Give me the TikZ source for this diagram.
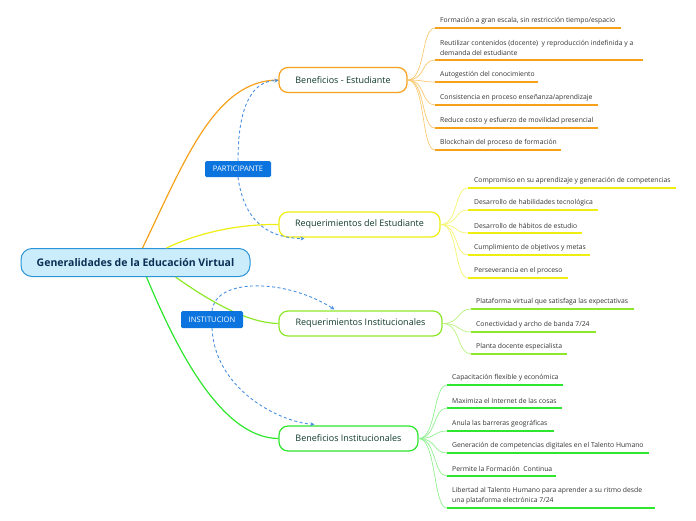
\documentclass[tikz,border=0pt]{standalone}
\usepackage{fontspec}
\setmainfont{Open Sans}
\usetikzlibrary{arrows.meta,calc}
\definecolor{cOr}{HTML}{F7A11A}
\definecolor{cOrL}{HTML}{F9C870}
\definecolor{cYe}{HTML}{EEEE10}
\definecolor{cYeL}{HTML}{F4F470}
\definecolor{cLi}{HTML}{8EE82A}
\definecolor{cLiL}{HTML}{B8F280}
\definecolor{cGr}{HTML}{2EE62E}
\definecolor{cGrL}{HTML}{90F090}
\definecolor{cDash}{HTML}{4A90E2}
\definecolor{cLab}{HTML}{0B74DE}
\definecolor{cCenF}{HTML}{CBEDFB}
\definecolor{cCenD}{HTML}{2A94D6}
\definecolor{cTxt}{HTML}{0E3A2B}
\definecolor{cLeaf}{HTML}{333333}
\tikzset{
  topic/.style={draw, line width=1.2pt, fill=white, rounded corners=9pt, inner sep=0pt,
    text=cTxt, font=\fontsize{9}{11}\selectfont, minimum height=25pt},
  label/.style={fill=cLab, rounded corners=1.5pt, text=white, inner sep=0pt,
    font=\fontsize{7.6}{9}\selectfont},
  leaf/.style={inner sep=0pt, text=cLeaf, align=left, font=\fontsize{6.8}{10}\selectfont},
  conn/.style={line width=1.2pt},
  dashlink/.style={cDash, line width=0.9pt, dash pattern=on 3pt off 2.5pt, -{Stealth[length=4pt,width=4pt]}},
  or branch/.style={cOrL, line width=0.7pt}, or ul/.style={cOr, line width=1.8pt},
  ye branch/.style={cYeL, line width=0.7pt}, ye ul/.style={cYe, line width=1.8pt},
  li branch/.style={cLiL, line width=0.7pt}, li ul/.style={cLi, line width=1.8pt},
  gr branch/.style={cGrL, line width=0.7pt}, gr ul/.style={cGr, line width=1.8pt},
}
\newcommand\leafitem[8]{%
  \coordinate (#1a) at (#4,#6);
  \coordinate (#1b) at (#5,#6);
  \node[leaf, anchor=south west] (#1) at (#3,#6-4) {#8};
  \draw[#7 branch] (#2.east) .. controls ($(#2.east)+(18,0)$) and ($(#1a)+(-14,0)$) .. (#1a);
  \draw[#7 ul] (#1a) -- (#1b);
}
\begin{document}
\begin{tikzpicture}[x=1pt,y=-1pt]
\useasboundingbox (0,0) rectangle (696,520);
% central
\node[draw=cCenD, fill=cCenF, line width=1pt, rounded corners=11pt, minimum width=229pt, minimum height=28pt,
  text=cTxt!80!blue, font=\fontsize{10.5}{12}\selectfont\bfseries] (cen) at (135.5,262.5) {Generalidades de la Educación Virtual};
% topics
\node[topic, draw=cOr, minimum width=128pt] (bes) at (343,80) {Beneficios - Estudiante};
\node[topic, draw=cYe, minimum width=161pt] (res) at (359.5,224.5) {Requerimientos del Estudiante};
\node[topic, draw=cLi, minimum width=163pt] (rin) at (360.5,323.5) {Requerimientos Institucionales};
\node[topic, draw=cGr, minimum width=139pt] (bin) at (348.5,438.5) {Beneficios Institucionales};
% main connectors
\draw[conn, cOr] ($(cen.north)+(7,0)$) .. controls (185,160) and (215,80) .. (bes.west);
\draw[conn, cYe] ($(cen.north)+(31,0)$) .. controls (200,232) and (240,224) .. (res.west);
\draw[conn, cLi] ($(cen.south)+(40,0)$) .. controls (215,305) and (250,323) .. (rin.west);
\draw[conn, cGr] ($(cen.south)+(11,0)$) .. controls (175,345) and (220,438) .. (bin.west);
% labels
\node[label, minimum width=66pt, minimum height=16pt] (part) at (238,169) {PARTICIPANTE};
\node[label, minimum width=62pt, minimum height=17pt] (inst) at (212,319.5) {INSTITUCION};
% dashed links
\draw[dashlink] (part.north) .. controls (238,110) and (250,81) .. ($(bes.west)+(0,0.5)$);
\draw[dashlink] (part.south) .. controls (245,228) and (275,238) .. ($(res.south west)+(26,1)$);
\draw[dashlink] (inst.north) .. controls (215,278) and (285,278) .. ($(rin.north west)+(56,-1)$);
\draw[dashlink] (inst.south) .. controls (215,390) and (280,422) .. ($(bin.north west)+(36,-1)$);
% leaves: Beneficios - Estudiante
\leafitem{l1}{bes}{440}{435}{621}{28}{or}{Formación a gran escala, sin restricción tiempo/espacio}
\leafitem{l2}{bes}{440}{435}{643}{60}{or}{Reutilizar contenidos (docente)\ \ y reproducción indefinida y a\\demanda del estudiante}
\leafitem{l3}{bes}{440}{435}{538}{82}{or}{Autogestión del conocimiento}
\leafitem{l4}{bes}{440}{435}{598}{105}{or}{Consistencia en proceso enseñanza/aprendizaje}
\leafitem{l5}{bes}{440}{435}{598}{128}{or}{Reduce costo y esfuerzo de movilidad presencial}
\leafitem{l6}{bes}{440}{435}{561}{150}{or}{Blockchain del proceso de formación}
% leaves: Requerimientos del Estudiante
\leafitem{m1}{res}{474}{468}{676}{188}{ye}{Compromiso en su aprendizaje y generación de competencias}
\leafitem{m2}{res}{474}{468}{598}{210}{ye}{Desarrollo de habilidades tecnológica}
\leafitem{m3}{res}{474}{468}{582}{233}{ye}{Desarrollo de hábitos de estudio}
\leafitem{m4}{res}{474}{468}{590}{255}{ye}{Cumplimiento de objetivos y metas}
\leafitem{m5}{res}{474}{468}{568}{278}{ye}{Perseverancia en el proceso}
% leaves: Requerimientos Institucionales
\leafitem{n1}{rin}{476}{471}{634}{309}{li}{Plataforma virtual que satisfaga las expectativas}
\leafitem{n2}{rin}{476}{471}{596}{332}{li}{Conectividad y archo de banda 7/24}
\leafitem{n3}{rin}{476}{471}{567}{354}{li}{Planta docente especialista}
% leaves: Beneficios Institucionales
\leafitem{o1}{bin}{452}{447}{563}{385}{gr}{Capacitación flexible y económica}
\leafitem{o2}{bin}{452}{447}{562}{408}{gr}{Maximiza el Internet de las cosas}
\leafitem{o3}{bin}{452}{447}{554}{431}{gr}{Anula las barreras geográficas}
\leafitem{o4}{bin}{452}{447}{649}{453}{gr}{Generación de competencias digitales en el Talento Humano}
\leafitem{o5}{bin}{452}{447}{556}{476}{gr}{Permite la Formación\ \ Continua}
\leafitem{o6}{bin}{452}{447}{655}{508}{gr}{Libertad al Talento Humano para aprender a su ritmo desde\\una plataforma electrónica 7/24}
\end{tikzpicture}
\end{document}
